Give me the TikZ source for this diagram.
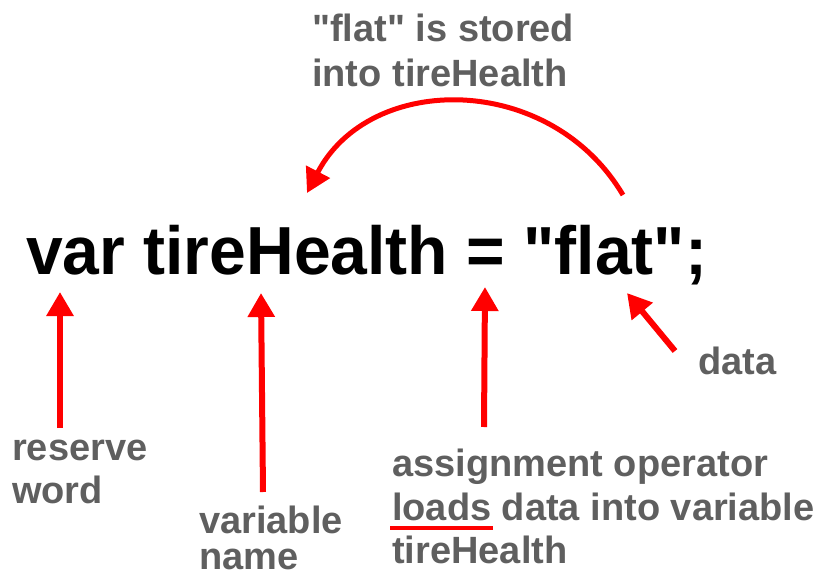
\documentclass[tikz,border=0pt]{standalone}
\usepackage{fontspec}
\setmainfont{Liberation Sans}[Ligatures=TeXOff]
\usetikzlibrary{arrows.meta}
\definecolor{lbl}{HTML}{5F5F5F}
\tikzset{
  code/.style={inner sep=0pt, anchor=base west, font=\fontsize{68}{74}\selectfont\bfseries, text=black},
  lab/.style={inner sep=0pt, anchor=base west, font=\fontsize{38}{42}\selectfont\bfseries, text=lbl},
  redarrow/.style={draw=red, line width=6pt, -{Triangle[length=24pt,width=26pt]}},
  redline/.style={draw=red, line width=4pt}
}
\begin{document}
\begin{tikzpicture}[x=1pt,y=-1pt]
\useasboundingbox (0,0) rectangle (823,578);
\node[code] (code) at (26,274) {\resizebox{681pt}{\height}{var tireHealth = "flat";}};
% top label
\node[lab] (top1) at (312,42) {"flat" is stored};
\node[lab] (top2) at (312,87) {into tireHealth};
% bottom labels
\node[lab] (rw1) at (12,460) {reserve};
\node[lab] (rw2) at (12,503) {word};
\node[lab] (vn1) at (199,533) {variable};
\node[lab] (vn2) at (199,569) {name};
\node[lab] (as1) at (392,476) {assignment operator};
\node[lab] (as2) at (392,520) {loads data into variable};
\node[lab] (as3) at (392,563) {tireHealth};
\node[lab] (dt) at (698,374) {data};
% coordinates
\coordinate (c1s) at (623,195);
\coordinate (c1e) at (307,193);
\coordinate (a1s) at (60,428);
\coordinate (a1e) at (60,292);
\coordinate (a2s) at (263,492);
\coordinate (a2e) at (261,293);
\coordinate (a3s) at (484,427);
\coordinate (a3e) at (485,287);
\coordinate (a4s) at (675,351);
\coordinate (a4e) at (627,293);
\coordinate (u1) at (390,528);
\coordinate (u2) at (493,528);
% arrows
\draw[redarrow, line width=5pt] (c1s) .. controls (550,72) and (370,72) .. (c1e);
\draw[redarrow] (a1s) -- (a1e);
\draw[redarrow] (a2s) -- (a2e);
\draw[redarrow] (a3s) -- (a3e);
\draw[redarrow] (a4s) -- (a4e);
\draw[redline] (u1) -- (u2);
\end{tikzpicture}
\end{document}
